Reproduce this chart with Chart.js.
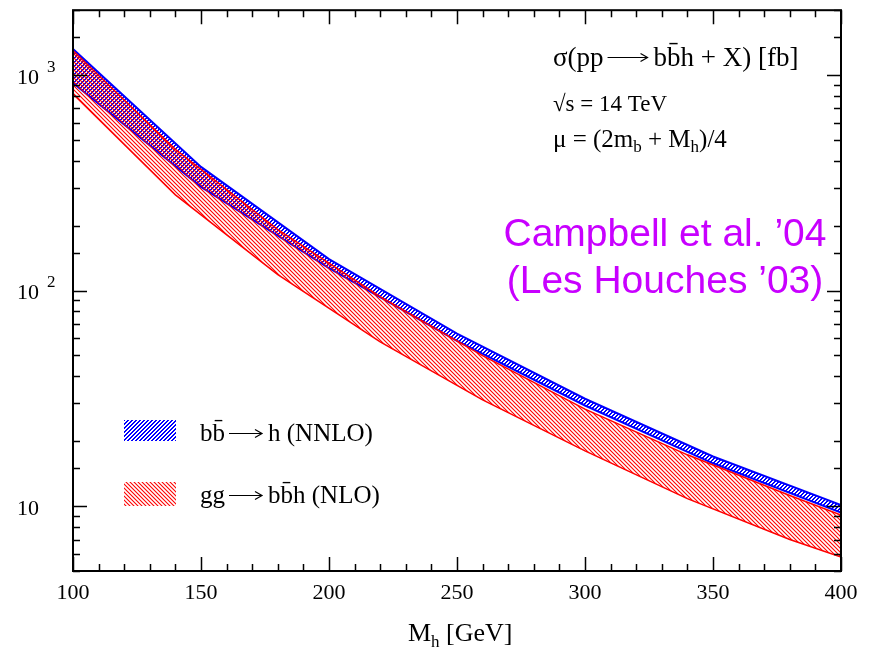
<!DOCTYPE html>
<html lang="en">
<head>
<meta charset="UTF-8">
<title>bbh cross section</title>
<script src="https://cdn.jsdelivr.net/npm/chart.js"></script>
<style>
  html, body { margin: 0; padding: 0; background: #fff; }
  #wrap { width: 875px; height: 652px; }
</style>
</head>
<body>
<div id="wrap"><canvas id="c" width="875" height="652"></canvas></div>
<script>
// Higgs mass points and band edges (fb)
const massBB = [100, 150, 200, 250, 300, 350, 400];
const bbUpper = [1320, 375, 140, 63.2, 31.5, 17.0, 10.1];
const bbLower = [918, 303, 127, 58.4, 29.3, 15.8, 9.33];

const massGG = [100, 140, 180, 220, 260, 300, 340, 380, 400];
const ggUpper = [1296, 452, 192, 93.7, 49.9, 28.2, 17.3, 11.2, 9.1];
const ggLower = [817, 278, 118.7, 57.8, 31.1, 18.05, 10.83, 7.0, 5.8];

const xTicks = [100, 150, 200, 250, 300, 350, 400];
const yDecades = [10, 100, 1000];

const SERIF = '"Liberation Serif", "Times New Roman", serif';
const SANS = '"Liberation Sans", Arial, sans-serif';

// blue: crisp 2px "/" lines; red: thin "\" lines
function blueTile() {
  const s = 4;
  const c = document.createElement('canvas');
  c.width = s; c.height = s;
  const g = c.getContext('2d');
  g.fillStyle = '#0000ff';
  for (let x = 0; x < s; x++) {
    const y = s - 1 - x;
    g.fillRect(x, y, 1, 1);
    g.fillRect(x, (y + 1) % s, 1, 1);
  }
  return g.createPattern(c, 'repeat');
}

function redTile() {
  const s = 4;
  const c = document.createElement('canvas');
  c.width = s; c.height = s;
  const g = c.getContext('2d');
  g.strokeStyle = '#ff0000';
  g.lineWidth = 1.1;
  g.beginPath();
  g.moveTo(-1, -1); g.lineTo(s + 1, s + 1);
  g.moveTo(s - 1, -1); g.lineTo(s + 1, 1);
  g.moveTo(-1, s - 1); g.lineTo(1, s + 1);
  g.stroke();
  return g.createPattern(c, 'repeat');
}

const blueHatch = blueTile();
const redHatch = redTile();

const pts = (xs, ys) => xs.map((x, i) => ({ x: x, y: ys[i] }));

// text pieces: strings, sub/superscripts and long arrows
function rich(ctx, parts, x, y) {
  let cx = x;
  parts.forEach(p => {
    if (p.arrow) {
      const my = Math.round(y - p.arrow.h);
      const x0 = cx + 4, x1 = cx + 4 + p.arrow.len;
      ctx.save();
      ctx.strokeStyle = '#000';
      ctx.lineWidth = 1.2;
      ctx.beginPath();
      ctx.moveTo(x0, my + 0.5); ctx.lineTo(x1, my + 0.5);
      ctx.moveTo(x1 - 7, my - 3.5); ctx.lineTo(x1, my + 0.5); ctx.lineTo(x1 - 7, my + 4.5);
      ctx.stroke();
      ctx.restore();
      cx = x1 + 6;
    } else {
      ctx.font = p.size + 'px ' + SERIF;
      ctx.fillText(p.t, cx, y + (p.dy || 0));
      cx += ctx.measureText(p.t).width;
    }
  });
}

// inward ticks, frame, texts, legend
const decor = {
  id: 'decor',
  afterDraw(chart) {
    const ctx = chart.ctx;
    const a = chart.chartArea;
    const xs = chart.scales.x, ys = chart.scales.y;
    ctx.save();
    ctx.strokeStyle = '#000';
    ctx.lineWidth = 1.5;
    ctx.beginPath();
    xs.ticks.forEach(t => {
      const px = Math.round(xs.getPixelForValue(t.value)) + 0.5;
      const len = t.value % 50 === 0 ? 14 : 7;
      ctx.moveTo(px, a.bottom); ctx.lineTo(px, a.bottom - len);
      ctx.moveTo(px, a.top); ctx.lineTo(px, a.top + len);
    });
    ys.ticks.forEach(t => {
      const py = Math.round(ys.getPixelForValue(t.value)) + 0.5;
      const lg = Math.log10(t.value);
      const len = Math.abs(lg - Math.round(lg)) < 1e-9 ? 14 : 7;
      ctx.moveTo(a.left, py); ctx.lineTo(a.left + len, py);
      ctx.moveTo(a.right, py); ctx.lineTo(a.right - len, py);
    });
    ctx.stroke();
    ctx.lineWidth = 2;
    ctx.strokeRect(a.left, a.top, a.right - a.left, a.bottom - a.top);

    // y labels 10, 10^2, 10^3
    ctx.fillStyle = '#000';
    ctx.textBaseline = 'middle';
    yDecades.forEach(v => {
      const py = ys.getPixelForValue(v);
      const e = Math.round(Math.log10(v));
      ctx.font = '22px ' + SERIF;
      ctx.textAlign = 'left';
      ctx.fillText('10', 17, py + 3);
      if (e > 1) {
        ctx.font = '17px ' + SERIF;
        ctx.fillText(String(e), 47, py - 8);
      }
    });

    // x title M_h [GeV]
    ctx.textAlign = 'left';
    ctx.textBaseline = 'alphabetic';
    rich(ctx, [{ t: 'M', size: 26 }, { t: 'h', size: 17, dy: 6 }, { t: ' [GeV]', size: 26 }], 408, 641);

    // top-right labels
    rich(ctx, [{ t: '\u03c3(pp', size: 27 }, { arrow: { len: 40, h: 9 } },
               { t: 'bb\u0304h + X) [fb]', size: 27 }], 553, 66);
    rich(ctx, [{ t: '\u221as = 14 TeV', size: 23 }], 553, 111);
    rich(ctx, [{ t: '\u03bc = (2m', size: 25 }, { t: 'b', size: 17, dy: 5 },
               { t: ' + M', size: 25 }, { t: 'h', size: 17, dy: 5 }, { t: ')/4', size: 25 }], 553, 147);

    // reference note
    ctx.fillStyle = '#c800ff';
    ctx.font = '39px ' + SANS;
    ctx.textAlign = 'center';
    ctx.fillText('Campbell et al. \u201904', 665, 246);
    ctx.fillText('(Les Houches \u201903)', 665, 293);

    // legend
    ctx.textAlign = 'left';
    ctx.fillStyle = blueHatch;
    ctx.fillRect(124, 420, 52, 21);
    ctx.fillStyle = redHatch;
    ctx.fillRect(124, 482, 52, 24);
    ctx.fillStyle = '#000';
    rich(ctx, [{ t: 'bb\u0304', size: 25 }, { arrow: { len: 33, h: 8 } }, { t: 'h (NNLO)', size: 25 }], 200, 441);
    rich(ctx, [{ t: 'gg', size: 25 }, { arrow: { len: 33, h: 8 } }, { t: 'bb\u0304h (NLO)', size: 25 }], 200, 503);
    ctx.restore();
  }
};

new Chart(document.getElementById('c'), {
  type: 'line',
  data: {
    datasets: [
      { label: 'gg upper', data: pts(massGG, ggUpper), borderColor: '#ff0000', borderWidth: 1.5,
        backgroundColor: redHatch, fill: '+1', pointRadius: 0, tension: 0 },
      { label: 'gg lower', data: pts(massGG, ggLower), borderColor: '#ff0000', borderWidth: 1.5,
        fill: false, pointRadius: 0, tension: 0 },
      { label: 'bb upper', data: pts(massBB, bbUpper), borderColor: '#0000ff', borderWidth: 2,
        backgroundColor: blueHatch, fill: '+1', pointRadius: 0, tension: 0 },
      { label: 'bb lower', data: pts(massBB, bbLower), borderColor: '#0000ff', borderWidth: 2,
        fill: false, pointRadius: 0, tension: 0 }
    ]
  },
  options: {
    responsive: false,
    animation: false,
    layout: { padding: { left: 0, right: 34, top: 8, bottom: 0 } },
    plugins: { legend: { display: false }, tooltip: { enabled: false } },
    scales: {
      x: {
        type: 'linear', min: 100, max: 400,
        grid: { display: false, drawTicks: false },
        border: { display: false },
        ticks: {
          stepSize: 10, autoSkip: false, maxRotation: 0, padding: 9,
          color: '#000', font: { family: SERIF, size: 22 },
          callback: v => (xTicks.includes(v) ? String(v) : '')
        },
        afterFit: s => { s.height = 81; }
      },
      y: {
        type: 'logarithmic', min: 5, max: 2000,
        grid: { display: false, drawTicks: false },
        border: { display: false },
        ticks: { display: true, autoSkip: false, callback: () => '' },
        afterFit: s => { s.width = 73; }
      }
    }
  },
  plugins: [decor]
});
</script>
</body>
</html>
